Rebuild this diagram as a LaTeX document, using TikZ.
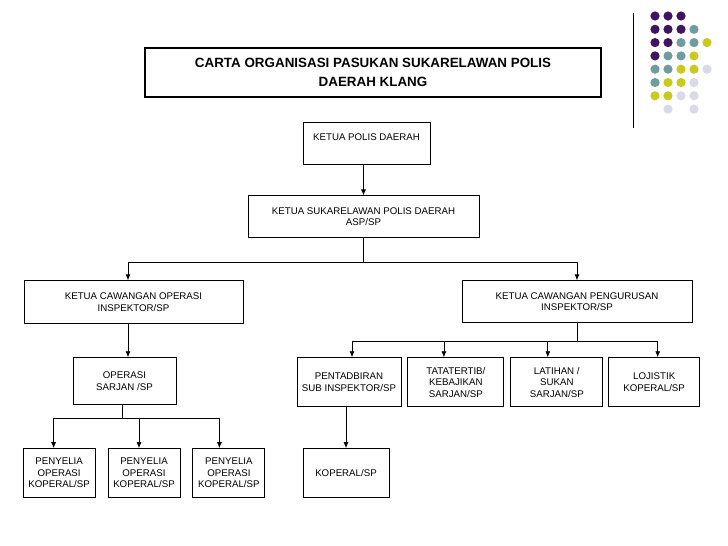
\documentclass[tikz,border=0pt]{standalone}
\usepackage{fontspec}
\setmainfont{Liberation Sans}
\usepackage{tikz}
\usetikzlibrary{arrows.meta,positioning,calc}

\definecolor{dotpurple}{HTML}{40145E}
\definecolor{dotteal}{HTML}{6F9C9E}
\definecolor{dotyellow}{HTML}{C9C91E}
\definecolor{dotlilac}{HTML}{D9D9E8}

\begin{document}
\begin{tikzpicture}[node distance=6pt and 6pt,
  box/.style={draw,line width=0.9pt,align=center,inner sep=2pt,font=\fontsize{9.7}{11.5}\selectfont},
  titlebox/.style={draw,line width=1.1pt,align=center,minimum width=456pt,minimum height=49pt,font=\fontsize{13.4}{19}\selectfont\bfseries},
  low/.style={box,minimum width=72pt,minimum height=49pt},
  arr/.style={line width=0.8pt,-{Latex[length=6pt,width=5pt]}},
  link/.style={line width=0.8pt}]
\useasboundingbox (0,0) rectangle (728pt,-546pt);
% corner ornament
\draw[line width=0.9pt] (633pt,-13pt) -- (633pt,-128pt);
\begin{scope}[x=13pt,y=-13.3pt,shift={(655pt,-16pt)}]
\foreach \c/\r/\col in {0/0/dotpurple,1/0/dotpurple,2/0/dotpurple,
  0/1/dotpurple,1/1/dotpurple,2/1/dotpurple,3/1/dotteal,
  0/2/dotpurple,1/2/dotpurple,2/2/dotteal,3/2/dotteal,4/2/dotyellow,
  0/3/dotpurple,1/3/dotteal,2/3/dotteal,3/3/dotyellow,
  0/4/dotteal,1/4/dotteal,2/4/dotyellow,3/4/dotyellow,4/4/dotlilac,
  0/5/dotteal,1/5/dotyellow,2/5/dotyellow,3/5/dotlilac,
  0/6/dotyellow,1/6/dotyellow,2/6/dotlilac,3/6/dotlilac,
  1/7/dotlilac,3/7/dotlilac}
  \fill[\col] (\c,\r) circle (4.6pt);
\end{scope}
% chart
\node[titlebox] (title) at (373pt,-72.5pt) {CARTA ORGANISASI PASUKAN SUKARELAWAN POLIS\\DAERAH KLANG};
\node[box,minimum width=127pt,minimum height=42pt,below=24pt of title,xshift=-6.5pt] (kpd) {KETUA POLIS DAERAH\\\mbox{}};
\node[box,minimum width=231pt,minimum height=42pt,below=31pt of kpd,xshift=-3pt] (ksp) {KETUA SUKARELAWAN POLIS DAERAH\\ASP/SP};
\node[box,minimum width=219pt,minimum height=43pt,below=42pt of ksp,xshift=-230pt] (kco) {KETUA CAWANGAN OPERASI\\INSPEKTOR/SP};
\node[box,minimum width=230pt,minimum height=42pt,below=42pt of ksp,xshift=213.5pt] (kcp) {KETUA CAWANGAN PENGURUSAN\\INSPEKTOR/SP};
\node[box,minimum width=103pt,minimum height=47pt,below=33pt of kco,xshift=-9pt] (ops) {OPERASI\\SARJAN /SP};
\node[low,below=43pt of ops,xshift=19.5pt] (py2) {PENYELIA\\OPERASI\\KOPERAL/SP};
\node[low,left=12pt of py2] (py1) {PENYELIA\\OPERASI\\KOPERAL/SP};
\node[low,right=12pt of py2] (py3) {PENYELIA\\OPERASI\\KOPERAL/SP};
\node[box,minimum width=104pt,minimum height=49pt,below=34pt of kcp,xshift=-228pt] (pent) {PENTADBIRAN\\SUB INSPEKTOR/SP};
\node[box,minimum width=96pt,minimum height=49pt,right=6pt of pent] (tata) {TATATERTIB/\\KEBAJIKAN\\SARJAN/SP};
\node[box,minimum width=92pt,minimum height=49pt,right=6pt of tata] (lat) {LATIHAN /\\SUKAN\\SARJAN/SP};
\node[box,minimum width=91pt,minimum height=49pt,right=5pt of lat] (loj) {LOJISTIK\\KOPERAL/SP};
\node[box,minimum width=86pt,minimum height=49pt,below=41pt of pent,xshift=-3pt] (kop) {KOPERAL/SP};
% connectors
\draw[arr] (kpd.south -| ksp.north) -- (ksp.north);
\coordinate (splitA) at ($(ksp.south)+(0,-24pt)$);
\draw[link] (ksp.south) -- (splitA);
\draw[arr] (splitA) -| ([xshift=-5.5pt]kco.north);
\draw[arr] (splitA) -| (kcp.north);
\draw[arr] ([xshift=-5.5pt]kco.south) -- ([xshift=3.5pt]ops.north);
\coordinate (splitB) at ($(ops.south)+(-2.5pt,-13pt)$);
\draw[link] ([xshift=-2.5pt]ops.south) -- (splitB);
\draw[arr] (splitB) -| ([xshift=-5.5pt]py1.north);
\draw[arr] (splitB) -| ([xshift=-5pt]py2.north);
\draw[arr] (splitB) -| ([xshift=-9.5pt]py3.north);
\coordinate (splitC) at ($(kcp.south)+(0,-18pt)$);
\draw[link] (kcp.south) -- (splitC);
\draw[arr] (splitC) -| ([xshift=3pt]pent.north);
\draw[arr] (splitC) -| ([xshift=-12pt]tata.north);
\draw[arr] (splitC) -| ([xshift=-9pt]lat.north);
\draw[arr] (splitC) -| ([xshift=3.5pt]loj.north);
\draw[arr] ([xshift=-3pt]pent.south) -- (kop.north);
\end{tikzpicture}
\end{document}
